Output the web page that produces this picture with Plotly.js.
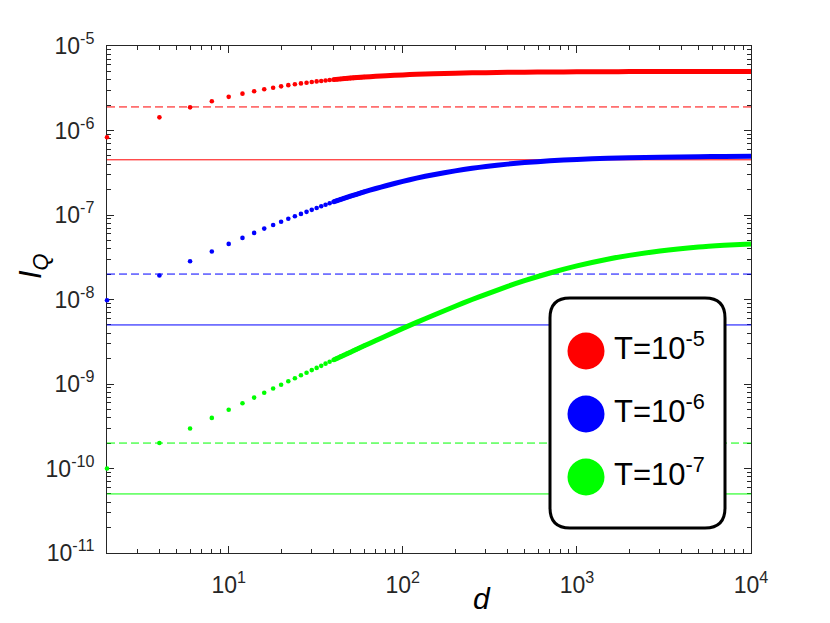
<!DOCTYPE html>
<html>
<head>
<meta charset="utf-8">
<script src="https://cdn.plot.ly/plotly-3.0.1.min.js"></script>
<style>html,body{margin:0;padding:0;background:#fff;}#chart{width:830px;height:623px;}</style>
</head>
<body>
<div id="chart"></div>
<script>
// ---- data ----
var dDots = [2,4,6,8,10,12,14,16,18,20,22,24,26,28,30,32,34,36,38,40,42,44,46,48,50,52,54,56,58,60];
var redDots = [8.33e-7,1.43e-6,1.88e-6,2.22e-6,2.50e-6,2.73e-6,2.92e-6,3.08e-6,3.21e-6,3.33e-6,3.44e-6,3.53e-6,3.61e-6,3.68e-6,3.75e-6,3.81e-6,3.86e-6,3.91e-6,3.96e-6,4.00e-6,4.04e-6,4.07e-6,4.11e-6,4.14e-6,4.17e-6,4.19e-6,4.22e-6,4.24e-6,4.26e-6,4.29e-6];
var blueDots = [9.8e-9,1.92e-8,2.83e-8,3.70e-8,4.55e-8,5.36e-8,6.14e-8,6.90e-8,7.63e-8,8.33e-8,9.02e-8,9.68e-8,1.03e-7,1.09e-7,1.15e-7,1.21e-7,1.27e-7,1.32e-7,1.38e-7,1.43e-7,1.48e-7,1.53e-7,1.58e-7,1.62e-7,1.67e-7,1.71e-7,1.75e-7,1.80e-7,1.84e-7,1.88e-7];
var greenDots = [1.0e-10,2.0e-10,2.98e-10,3.97e-10,4.95e-10,5.93e-10,6.90e-10,7.87e-10,8.84e-10,9.80e-10,1.08e-9,1.17e-9,1.27e-9,1.36e-9,1.46e-9,1.55e-9,1.64e-9,1.74e-9,1.83e-9,1.92e-9,2.02e-9,2.11e-9,2.20e-9,2.29e-9,2.38e-9,2.47e-9,2.56e-9,2.65e-9,2.74e-9,2.83e-9];

var dDense = [40,50,60,70,80,100,120,150,200,250,300,400,500,700,1000,1500,2000,3000,5000,7000,10000];
var redDense = [4.00e-6,4.17e-6,4.29e-6,4.375e-6,4.44e-6,4.55e-6,4.62e-6,4.69e-6,4.76e-6,4.81e-6,4.84e-6,4.88e-6,4.90e-6,4.93e-6,4.95e-6,4.97e-6,4.975e-6,4.98e-6,4.99e-6,4.993e-6,4.995e-6];
var blueDense = [1.43e-7,1.67e-7,1.88e-7,2.06e-7,2.22e-7,2.50e-7,2.73e-7,3.00e-7,3.33e-7,3.57e-7,3.75e-7,4.00e-7,4.17e-7,4.375e-7,4.55e-7,4.69e-7,4.76e-7,4.84e-7,4.90e-7,4.93e-7,4.95e-7];
var greenDense = [1.92e-9,2.38e-9,2.83e-9,3.27e-9,3.70e-9,4.55e-9,5.36e-9,6.52e-9,8.33e-9,1.00e-8,1.15e-8,1.43e-8,1.67e-8,2.06e-8,2.50e-8,3.00e-8,3.33e-8,3.75e-8,4.17e-8,4.375e-8,4.55e-8];

var dSpan = [2, 10000];
var solidLevels = [4.5e-7, 5e-9, 5e-11];
var dashedLevels = [1.9e-6, 2e-8, 2e-10];

var seriesNames = ['T=10<sup>-5</sup>', 'T=10<sup>-6</sup>', 'T=10<sup>-7</sup>'];
var seriesColors = ['#ff0000', '#0000ff', '#00ff00'];

var xTickVals = [10, 100, 1000, 10000];
var xTickText = ['10<sup>1</sup>','10<sup>2</sup>','10<sup>3</sup>','10<sup>4</sup>'];
var yTickVals = [1e-11,1e-10,1e-9,1e-8,1e-7,1e-6,1e-5];
var yTickText = ['10<sup>-11</sup>','10<sup>-10</sup>','10<sup>-9</sup>','10<sup>-8</sup>','10<sup>-7</sup>','10<sup>-6</sup>','10<sup>-5</sup>'];

// ---- layout geometry (pixels) ----
var W = 830, H = 623;
var L = 107, R = 751, T = 46, B = 553;
function px(x){ return (x - L) / (R - L); }
function py(y){ return (B - y) / (B - T); }

var dotsY = [redDots, blueDots, greenDots];
var denseY = [redDense, blueDense, greenDense];
var traces = [];
for (var i = 0; i < 3; i++) {
  traces.push({x: dDots, y: dotsY[i], type: 'scatter', mode: 'markers', cliponaxis: false,
    marker: {color: seriesColors[i], size: 4.6, line: {width: 0}}, showlegend: false, hoverinfo: 'skip'});
  traces.push({x: dDense, y: denseY[i], type: 'scatter', mode: 'lines', cliponaxis: false,
    line: {color: seriesColors[i], width: 5, shape: 'spline', smoothing: 0.6}, showlegend: false, hoverinfo: 'skip'});
  traces.push({x: dSpan, y: [solidLevels[i], solidLevels[i]], type: 'scatter', mode: 'lines',
    line: {color: seriesColors[i], width: 1}, showlegend: false, hoverinfo: 'skip'});
  traces.push({x: dSpan, y: [dashedLevels[i], dashedLevels[i]], type: 'scatter', mode: 'lines',
    line: {color: seriesColors[i], width: 1, dash: '8px,4px'}, showlegend: false, hoverinfo: 'skip'});
}

function minorVals(lo, hi) {
  var v = [];
  for (var e = lo; e < hi; e++) for (var k = 2; k <= 9; k++) v.push(k * Math.pow(10, e));
  return v;
}

var axisColor = '#262626';
var fontFam = 'Liberation Sans, Arial, sans-serif';

// legend box (rounded rectangle) in paper coords
var bx0 = 550, bx1 = 725, by0 = 298, by1 = 528, rr = 20;
function P(x, y){ return px(x).toFixed(5) + ',' + py(y).toFixed(5); }
var boxPath = 'M' + P(bx0 + rr, by0) + ' L' + P(bx1 - rr, by0) +
  ' Q' + P(bx1, by0) + ' ' + P(bx1, by0 + rr) +
  ' L' + P(bx1, by1 - rr) + ' Q' + P(bx1, by1) + ' ' + P(bx1 - rr, by1) +
  ' L' + P(bx0 + rr, by1) + ' Q' + P(bx0, by1) + ' ' + P(bx0, by1 - rr) +
  ' L' + P(bx0, by0 + rr) + ' Q' + P(bx0, by0) + ' ' + P(bx0 + rr, by0) + ' Z';

var shapes = [{type: 'path', xref: 'paper', yref: 'paper', path: boxPath,
  fillcolor: '#ffffff', line: {color: '#000000', width: 3}, layer: 'above'}];
var annotations = [];
var legendCy = [351, 414, 477];
var cx = 586, cr = 18.5;
for (var j = 0; j < 3; j++) {
  shapes.push({type: 'circle', xref: 'paper', yref: 'paper', layer: 'above',
    x0: px(cx - cr), x1: px(cx + cr), y0: py(legendCy[j] + cr), y1: py(legendCy[j] - cr),
    fillcolor: seriesColors[j], line: {width: 0}});
  annotations.push({xref: 'paper', yref: 'paper', x: px(612), y: py(legendCy[j] - 5),
    xanchor: 'left', yanchor: 'middle', showarrow: false, text: seriesNames[j],
    font: {family: fontFam, size: 31, color: '#000000'}});
}
annotations.push({xref: 'paper', yref: 'paper', x: px(482), y: py(598), xanchor: 'center', yanchor: 'middle',
  showarrow: false, text: '<i>d</i>', font: {family: fontFam, size: 30, color: '#000000'}});
annotations.push({xref: 'paper', yref: 'paper', x: px(33), y: py(266), xanchor: 'center', yanchor: 'middle',
  showarrow: false, textangle: -90, text: '<i>I</i><sub><i>Q</i></sub>', font: {family: fontFam, size: 31, color: '#000000'}});

var layout = {
  width: W, height: H,
  margin: {l: L, r: W - R, t: T, b: H - B, pad: 0},
  paper_bgcolor: '#ffffff', plot_bgcolor: '#ffffff',
  showlegend: false,
  font: {family: fontFam, color: axisColor, size: 18},
  xaxis: {type: 'log', range: [0.3010, 4], tickmode: 'array', tickvals: xTickVals, ticktext: xTickText,
    layer: 'below traces',
    ticks: 'inside', ticklen: 7, tickwidth: 1, tickcolor: axisColor, showline: true, linecolor: axisColor, linewidth: 1,
    mirror: 'ticks', showgrid: false, zeroline: false, tickfont: {family: fontFam, size: 23, color: axisColor}, ticklabelstandoff: 11,
    minor: {tickmode: 'array', tickvals: minorVals(0, 4), ticks: 'inside', ticklen: 4, tickcolor: axisColor, showgrid: false}},
  yaxis: {type: 'log', range: [-11, -5], tickmode: 'array', tickvals: yTickVals, ticktext: yTickText,
    layer: 'below traces',
    ticks: 'inside', ticklen: 7, tickwidth: 1, tickcolor: axisColor, showline: true, linecolor: axisColor, linewidth: 1,
    mirror: 'ticks', showgrid: false, zeroline: false, tickfont: {family: fontFam, size: 23, color: axisColor}, ticklabelstandoff: 7,
    minor: {tickmode: 'array', tickvals: minorVals(-11, -5), ticks: 'inside', ticklen: 4, tickcolor: axisColor, showgrid: false}},
  shapes: shapes,
  annotations: annotations
};

Plotly.newPlot('chart', traces, layout, {staticPlot: true, displayModeBar: false});
</script>
</body>
</html>
